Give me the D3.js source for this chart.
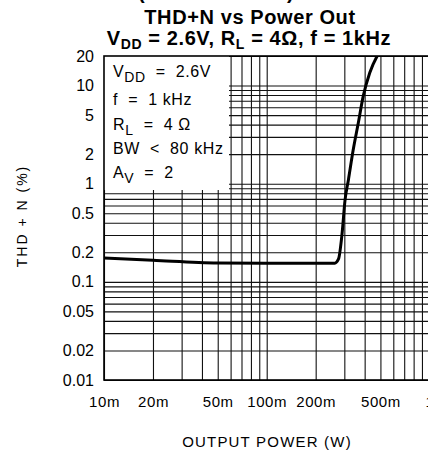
<!DOCTYPE html>
<html>
<head>
<meta charset="utf-8">
<script src="https://cdn.jsdelivr.net/npm/d3@7"></script>
<style>
  body { margin: 0; background: #fff; }
  svg { display: block; }
  .tick text { font-family: "Liberation Sans", Arial, sans-serif; fill: #000; }
</style>
</head>
<body>
<svg id="chart" width="428" height="455"></svg>
<script>
// output power (W) and THD+N (%)
const pout = [0.01, 0.02, 0.05, 0.1, 0.2, 0.262, 0.276, 0.29, 0.303, 0.318, 0.34, 0.366, 0.392, 0.43, 0.485];
const thd = [0.175, 0.166, 0.156, 0.155, 0.155, 0.155, 0.17, 0.3, 0.68, 1.1, 2.2, 4.2, 7.8, 13.5, 21];

const xTickValues = [0.01, 0.02, 0.05, 0.1, 0.2, 0.5, 1];
const xTickLabels = ["10m", "20m", "50m", "100m", "200m", "500m", "1"];
const yTickValues = [0.01, 0.02, 0.05, 0.1, 0.2, 0.5, 1, 2, 5, 10, 20];
const yTickLabels = ["0.01", "0.02", "0.05", "0.1", "0.2", "0.5", "1", "2", "5", "10", "20"];

const svg = d3.select("#chart");
const margin = { top: 56, left: 104, bottom: 380, right: 429.4 };
const width = margin.right - margin.left;
const height = margin.bottom - margin.top;

const x = d3.scaleLog().domain([0.01, 1]).range([margin.left, margin.right]);
const y = d3.scaleLog().domain([0.01, 20]).range([margin.bottom, margin.top]);

// titles (the top line of the page is cut off, only its brackets show)
const title = svg.append("g")
  .attr("font-family", "Liberation Sans, Arial, sans-serif")
  .attr("font-weight", "bold")
  .attr("font-size", 20)
  .attr("letter-spacing", 0.6)
  .attr("fill", "#000");
title.append("text").attr("x", 138).attr("y", -1).text("(");
title.append("text").attr("x", 287).attr("y", -1).text(")");
title.append("text").attr("x", 250).attr("y", 24).attr("text-anchor", "middle").text("THD+N vs Power Out");
const t2 = title.append("text").attr("x", 249).attr("y", 45).attr("text-anchor", "middle");
t2.append("tspan").text("V");
t2.append("tspan").attr("font-size", 14).attr("dy", 4).text("DD");
t2.append("tspan").attr("dy", -4).text(" = 2.6V, R");
t2.append("tspan").attr("font-size", 14).attr("dy", 4).text("L");
t2.append("tspan").attr("dy", -4).text(" = 4Ω, f = 1kHz");

// grid
svg.append("g")
  .attr("transform", `translate(0,${margin.bottom})`)
  .call(d3.axisBottom(x).ticks(10).tickSize(-height).tickFormat(""))
  .call(g => g.select(".domain").remove())
  .call(g => g.selectAll("line").attr("stroke", "#111").attr("stroke-width", 1.1));

svg.append("g")
  .attr("transform", `translate(${margin.left},0)`)
  .call(d3.axisLeft(y).ticks(10).tickSize(-width).tickFormat(""))
  .call(g => g.select(".domain").remove())
  .call(g => g.selectAll("line").attr("stroke", "#111").attr("stroke-width", 1.1));

// curve
svg.append("clipPath").attr("id", "clip")
  .append("rect").attr("x", margin.left).attr("y", margin.top).attr("width", width).attr("height", height);

const line = d3.line()
  .x((d, i) => x(pout[i]))
  .y(d => y(d))
  .curve(d3.curveMonotoneX);

svg.append("path")
  .datum(thd)
  .attr("clip-path", "url(#clip)")
  .attr("fill", "none")
  .attr("stroke", "#000")
  .attr("stroke-width", 3)
  .attr("stroke-linejoin", "round")
  .attr("d", line);

// legend box
svg.append("rect")
  .attr("x", margin.left).attr("y", margin.top)
  .attr("width", 125).attr("height", 134)
  .attr("fill", "#fff");

// frame
svg.append("rect")
  .attr("x", margin.left).attr("y", margin.top)
  .attr("width", width).attr("height", height)
  .attr("fill", "none").attr("stroke", "#000").attr("stroke-width", 1.6);

const box = svg.append("g")
  .attr("font-family", "Liberation Sans, Arial, sans-serif")
  .attr("font-size", 16)
  .attr("letter-spacing", 0.6)
  .attr("fill", "#000");
const lines = [
  ["V", "DD", "  =  2.6V"],
  ["f  =  1 kHz", "", ""],
  ["R", "L", "  =  4 Ω"],
  ["BW  <  80 kHz", "", ""],
  ["A", "V", "  =  2"]
];
const baselines = [77, 105, 130, 154, 178];
lines.forEach((l, i) => {
  const t = box.append("text").attr("x", 113).attr("y", baselines[i]).attr("xml:space", "preserve");
  t.append("tspan").text(l[0]);
  if (l[1]) {
    t.append("tspan").attr("font-size", 14).attr("dy", 5).text(l[1]);
    t.append("tspan").attr("dy", -5).text(l[2]);
  }
});

// tick labels
svg.append("g")
  .attr("transform", `translate(${margin.left - 10},0)`)
  .call(d3.axisLeft(y).tickValues(yTickValues).tickSize(0).tickPadding(0)
    .tickFormat((d, i) => yTickLabels[i]))
  .call(g => g.select(".domain").remove())
  .call(g => g.selectAll("text").attr("font-size", 16));

svg.append("g")
  .attr("transform", `translate(0,${margin.bottom + 16})`)
  .call(d3.axisBottom(x).tickValues(xTickValues).tickSize(0).tickPadding(0)
    .tickFormat((d, i) => xTickLabels[i]))
  .call(g => g.select(".domain").remove())
  .call(g => g.selectAll("text").attr("font-size", 15).attr("letter-spacing", 0.6));

// axis titles
svg.append("text")
  .attr("x", 267).attr("y", 447)
  .attr("text-anchor", "middle")
  .attr("font-family", "Liberation Sans, Arial, sans-serif")
  .attr("font-size", 15)
  .attr("letter-spacing", 1.2)
  .text("OUTPUT POWER (W)");

svg.append("text")
  .attr("transform", "translate(27,216) rotate(-90)")
  .attr("text-anchor", "middle")
  .attr("font-family", "Liberation Sans, Arial, sans-serif")
  .attr("font-size", 14)
  .attr("letter-spacing", 2)
  .text("THD + N (%)");
</script>
</body>
</html>
